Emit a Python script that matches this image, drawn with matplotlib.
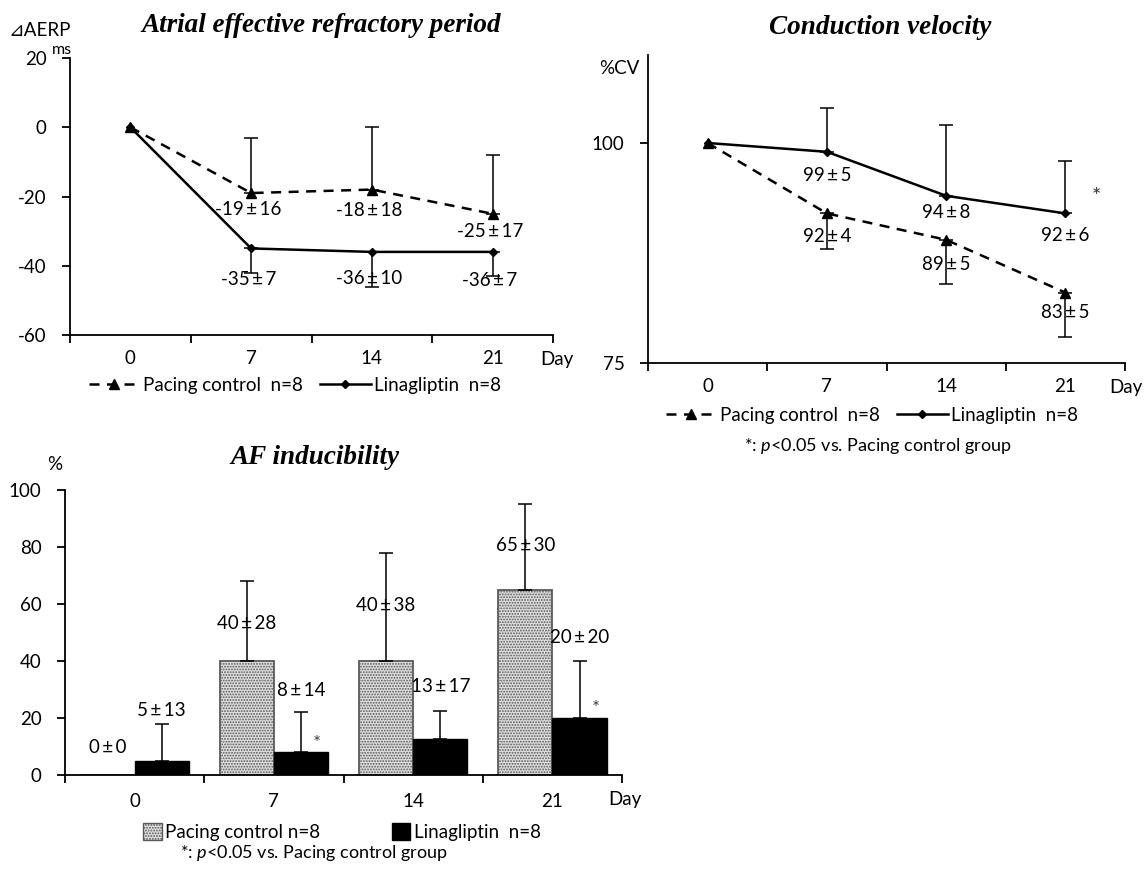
import matplotlib
matplotlib.use('Agg')
import matplotlib.pyplot as plt
import numpy as np
from matplotlib.lines import Line2D
from matplotlib.patches import Patch

plt.rcParams['font.family'] = ['Lato', 'DejaVu Sans', 'Noto Sans CJK JP']
plt.rcParams['mathtext.fontset'] = 'custom'
plt.rcParams['mathtext.rm'] = 'Lato'
plt.rcParams['mathtext.it'] = 'Lato:italic'
plt.rcParams['hatch.linewidth'] = 0.9
plt.rcParams['axes.unicode_minus'] = False

# ---------------- data ----------------
days = ['0', '7', '14', '21']

# Atrial effective refractory period (delta ms)
aerp_pacing = [0, -19, -18, -25]
aerp_pacing_sd = [0, 16, 18, 17]
aerp_lina = [0, -35, -36, -36]
aerp_lina_sd = [0, 7, 10, 7]

# Conduction velocity (%)
cv_pacing = [100, 92, 89, 83]
cv_pacing_sd = [0, 4, 5, 5]
cv_lina = [100, 99, 94, 92]
cv_lina_sd = [0, 5, 8, 6]

# AF inducibility (%)
af_pacing = [0, 40, 40, 65]
af_pacing_sd = [0, 28, 38, 30]
af_lina = [5, 8, 12.5, 20]
af_lina_sd_drawn = [13, 14, 10, 20]
af_pacing_mean_lbl = [0, 40, 40, 65]
af_pacing_sd_lbl = [0, 28, 38, 30]
af_lina_mean_lbl = [5, 8, 13, 20]
af_lina_sd_lbl = [13, 14, 17, 20]

legend_pacing = 'Pacing control  n=8'
legend_lina = 'Linagliptin  n=8'
note = '*: $\\it{p}$<0.05 vs. Pacing control group'

# ---------------- layout helpers ----------------
W, H = 1148, 874
fig = plt.figure(figsize=(W / 100, H / 100), dpi=100)
FS = 13.5


def px_axes(l, t, r, b):
    return fig.add_axes([l / W, 1 - b / H, (r - l) / W, (b - t) / H])


def fx(x):
    return x / W


def fy(y):
    return 1 - y / H


def style(ax):
    n = len(days)
    for s in ['top', 'right']:
        ax.spines[s].set_visible(False)
    for s in ['left', 'bottom']:
        ax.spines[s].set_linewidth(1.3)
    ax.set_xlim(-0.5, n - 0.5)
    ax.set_xticks(np.arange(-0.5, n, 1.0))
    ax.set_xticklabels([])
    ax.set_xticks(range(n), minor=True)
    ax.set_xticklabels(days, minor=True)
    ax.tick_params(axis='x', which='major', direction='out', length=6, width=1.3)
    ax.tick_params(axis='x', which='minor', length=0, pad=11, labelsize=FS)
    ax.tick_params(axis='y', direction='out', length=6, width=1.3, labelsize=FS, pad=11)


x = np.arange(len(days))
err_kw = dict(fmt='none', ecolor='black', elinewidth=1.1, capsize=5, capthick=1.1, zorder=2)
dash = (0, (4, 3))


def pmtxt(m, s):
    return f'{m}\u2009±\u2009{s}'


def line_panel(ax, pac, pac_sd, lin, lin_sd, pac_up, lin_up):
    ax.plot(x, pac, ls=dash, color='black', lw=1.8, marker='^', ms=7, zorder=3)
    ax.plot(x, lin, ls='-', color='black', lw=1.8, marker='D', ms=4.5, zorder=3)
    z = np.zeros(len(x) - 1)
    ps = np.array(pac_sd[1:])
    ls_ = np.array(lin_sd[1:])
    ax.errorbar(x[1:], pac[1:], yerr=[z, ps] if pac_up else [ps, z], **err_kw)
    ax.errorbar(x[1:], lin[1:], yerr=[z, ls_] if lin_up else [ls_, z], **err_kw)


def line_legend(cx, cy):
    h = [Line2D([], [], ls=dash, color='black', lw=1.8, marker='^', ms=7),
         Line2D([], [], ls='-', color='black', lw=1.8, marker='D', ms=4.5)]
    fig.legend(h, [legend_pacing, legend_lina], loc='center', bbox_to_anchor=(fx(cx), fy(cy)),
               ncol=2, frameon=False, fontsize=FS, handlelength=2.7, handletextpad=0.2,
               columnspacing=0.9, borderpad=0)


title_kw = dict(family='Liberation Serif', fontweight='bold', fontstyle='italic', fontsize=19.5,
                ha='center', va='center')

# ---------------- AERP ----------------
ax1 = px_axes(70, 58, 553, 335)
style(ax1)
ax1.set_ylim(-60, 20)
ax1.set_yticks([-60, -40, -20, 0, 20])
line_panel(ax1, aerp_pacing, aerp_pacing_sd, aerp_lina, aerp_lina_sd, True, False)
for i, off in zip(range(1, 4), [-16, -21, -18]):
    ax1.annotate(pmtxt(aerp_pacing[i], aerp_pacing_sd[i]), (i, aerp_pacing[i]),
                 xytext=(-2, off * 0.72), textcoords='offset points', ha='center', va='center',
                 fontsize=FS)
for i, off in zip(range(1, 4), [-31, -27, -29]):
    ax1.annotate(pmtxt(aerp_lina[i], aerp_lina_sd[i]), (i, aerp_lina[i]),
                 xytext=(-2, off * 0.72), textcoords='offset points', ha='center', va='center',
                 fontsize=FS)
fig.text(fx(321), fy(25), 'Atrial effective refractory period', **title_kw)
fig.text(fx(8), fy(31), '⊿AERP', fontsize=FS, ha='left', va='center')
fig.text(fx(52), fy(50), 'ms', fontsize=FS - 2, ha='left', va='center')
fig.text(fx(557), fy(359), 'Day', fontsize=FS, ha='center', va='center')
line_legend(295, 385)

# ---------------- CV ----------------
ax2 = px_axes(648, 55, 1125, 363)
style(ax2)
ax2.set_ylim(75, 110)
ax2.set_yticks([75, 100])
line_panel(ax2, cv_pacing, cv_pacing_sd, cv_lina, cv_lina_sd, False, True)
for i, off in zip(range(1, 4), [-24, -17, -22]):
    ax2.annotate(pmtxt(cv_lina[i], cv_lina_sd[i]), (i, cv_lina[i]), xytext=(0, off * 0.72),
                 textcoords='offset points', ha='center', va='center', fontsize=FS)
for i, off in zip(range(1, 4), [-23, -25, -20]):
    ax2.annotate(pmtxt(cv_pacing[i], cv_pacing_sd[i]), (i, cv_pacing[i]), xytext=(0, off * 0.72),
                 textcoords='offset points', ha='center', va='center', fontsize=FS)
ax2.annotate('*', (3, cv_lina[3]), xytext=(31 * 0.72, 16 * 0.72), textcoords='offset points',
             ha='center', va='center', fontsize=FS + 2, color='#333333')
fig.text(fx(880), fy(27), 'Conduction velocity', **title_kw)
fig.text(fx(599), fy(68), '%CV', fontsize=FS, ha='left', va='center')
fig.text(fx(1126), fy(387), 'Day', fontsize=FS, ha='center', va='center')
line_legend(872, 415)
fig.text(fx(878), fy(446), note, fontsize=FS - 0.5, ha='center', va='center')

# ---------------- AF inducibility ----------------
ax3 = px_axes(65, 490, 622, 775)
style(ax3)
ax3.tick_params(axis='x', which='minor', pad=13)
ax3.set_ylim(0, 100)
ax3.set_yticks([0, 20, 40, 60, 80, 100])
bw = 0.39
pac_face, pac_edge = '#dedede', '#5a5a5a'
ax3.bar(x - bw / 2, af_pacing, bw, facecolor=pac_face, edgecolor=pac_edge, hatch='......',
        linewidth=1.3, zorder=1)
ax3.bar(x + bw / 2, af_lina, bw, facecolor='black', edgecolor='black', linewidth=1.0, zorder=1)
pm = np.array(af_pacing_sd) > 0
ax3.errorbar((x - bw / 2)[pm], np.array(af_pacing)[pm],
             yerr=[np.zeros(pm.sum()), np.array(af_pacing_sd)[pm]], **err_kw)
ax3.errorbar(x + bw / 2, af_lina, yerr=[np.zeros(len(x)), af_lina_sd_drawn], **err_kw)
pac_lab_y = [9.8, 53.3, 59.3, 80.4]
lin_lab_y = [22.8, 29.8, 31.2, 48.4]
for i in range(len(days)):
    ax3.text(i - bw / 2, pac_lab_y[i], pmtxt(af_pacing_mean_lbl[i], af_pacing_sd_lbl[i]),
             ha='center', va='center', fontsize=FS)
    ax3.text(i + bw / 2, lin_lab_y[i], pmtxt(af_lina_mean_lbl[i], af_lina_sd_lbl[i]),
             ha='center', va='center', fontsize=FS)
for i in [1, 3]:
    ax3.annotate('*', (i + bw / 2, af_lina[i]), xytext=(16 * 0.72, 9 * 0.72),
                 textcoords='offset points', ha='center', va='center', fontsize=FS,
                 color='#444444')
fig.text(fx(315), fy(458), 'AF inducibility', **title_kw)
fig.text(fx(55), fy(465), '%', fontsize=FS, ha='center', va='center')
fig.text(fx(625), fy(800), 'Day', fontsize=FS, ha='center', va='center')
hb = [Patch(facecolor=pac_face, edgecolor=pac_edge, hatch='......', linewidth=1.0),
      Patch(facecolor='black', edgecolor='black')]
fig.legend(hb, ['Pacing control n=8', legend_lina], loc='center',
           bbox_to_anchor=(fx(342), fy(832)), ncol=2, frameon=False, fontsize=FS,
           handlelength=1.0, handleheight=1.0, handletextpad=0.2, columnspacing=3.8, borderpad=0)
fig.text(fx(314), fy(853), note, fontsize=FS - 0.5, ha='center', va='center')

fig.savefig('out.png', dpi=100, facecolor='white')
